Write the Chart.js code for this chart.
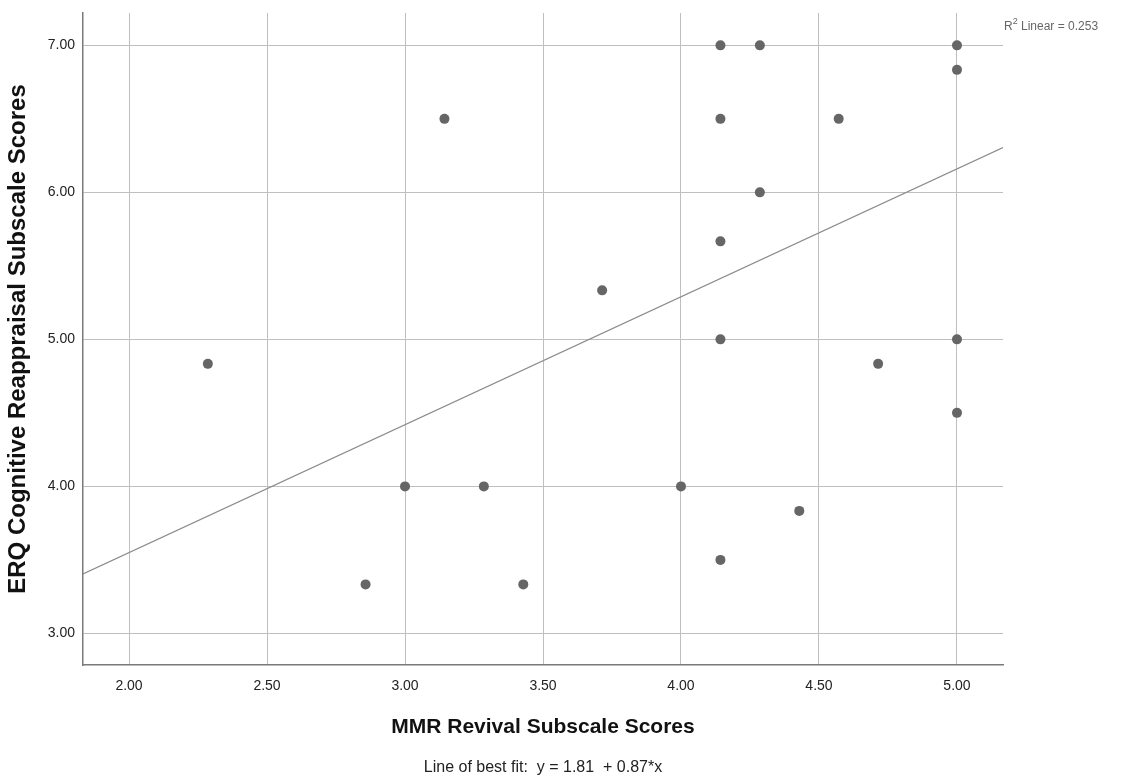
<!DOCTYPE html>
<html>
<head>
<meta charset="utf-8">
<title>ERQ Cognitive Reappraisal vs MMR Revival</title>
<script src="https://cdn.jsdelivr.net/npm/chart.js@4.4.1/dist/chart.umd.min.js"></script>
<style>
  html, body { margin: 0; padding: 0; background: #ffffff; }
  #wrap { width: 1127px; height: 782px; }
</style>
</head>
<body>
<div id="wrap"><canvas id="chart" width="1127" height="782"></canvas></div>
<script>
// Observed scores (one entry per participant)
const mmrRevival = [
  2.2857, 2.8571, 3.0000, 3.1429, 3.2857, 3.4286, 3.7143, 4.0000,
  4.1429, 4.1429, 4.1429, 4.1429, 4.1429, 4.2857, 4.2857, 4.4286,
  4.5714, 4.7143, 5.0000, 5.0000, 5.0000, 5.0000
];
const erqReappraisal = [
  4.8333, 3.3333, 4.0000, 6.5000, 4.0000, 3.3333, 5.3333, 4.0000,
  7.0000, 6.5000, 5.6667, 5.0000, 3.5000, 7.0000, 6.0000, 3.8333,
  6.5000, 4.8333, 7.0000, 6.8333, 5.0000, 4.5000
];

// Linear fit reported with the plot
const fitIntercept = 1.81;
const fitSlope = 0.87;
const rSquared = 0.253;

// Axis ranges and tick marks
const xRange = [1.8333, 5.1667];
const yRange = [2.785, 7.22];
const xTickValues = [2.0, 2.5, 3.0, 3.5, 4.0, 4.5, 5.0];
const yTickValues = [3.0, 4.0, 5.0, 6.0, 7.0];

const xTitle = 'MMR Revival Subscale Scores';
const yTitle = 'ERQ Cognitive Reappraisal Subscale Scores';
const fitCaption = 'Line of best fit:  y = 1.81  + 0.87*x';

const scatterPoints = mmrRevival.map((x, i) => ({ x: x, y: erqReappraisal[i] }));
const fitPoints = xRange.map(x => ({ x: x, y: fitIntercept + fitSlope * x }));

const sans = "'Liberation Sans', Arial, sans-serif";

// Caption under the x title and the R² note in the top-right corner
const annotations = {
  id: 'annotations',
  afterDraw(chart) {
    const ctx = chart.ctx;
    const area = chart.chartArea;
    ctx.save();
    ctx.textBaseline = 'middle';

    ctx.fillStyle = '#222222';
    ctx.font = '16px ' + sans;
    ctx.textAlign = 'center';
    ctx.fillText(fitCaption, (area.left + area.right) / 2, 768);

    ctx.fillStyle = '#666666';
    ctx.textAlign = 'left';
    let x = area.right + 1;
    const y = 27;
    ctx.font = '12px ' + sans;
    ctx.fillText('R', x, y);
    x += ctx.measureText('R').width;
    ctx.font = '9px ' + sans;
    ctx.fillText('2', x, y - 5);
    x += ctx.measureText('2').width;
    ctx.font = '12px ' + sans;
    ctx.fillText(' Linear = ' + rSquared.toFixed(3), x, y);
    ctx.restore();
  }
};

new Chart(document.getElementById('chart'), {
  type: 'scatter',
  data: {
    datasets: [
      {
        label: 'Fit',
        type: 'line',
        data: fitPoints,
        borderColor: '#8c8c8c',
        borderWidth: 1.2,
        pointRadius: 0,
        fill: false,
        order: 2
      },
      {
        label: 'Scores',
        data: scatterPoints,
        backgroundColor: '#666666',
        borderColor: '#666666',
        borderWidth: 0,
        pointRadius: 5,
        order: 1
      }
    ]
  },
  options: {
    responsive: false,
    animation: false,
    layout: { padding: { top: 13, right: 124, left: 0, bottom: 0 } },
    plugins: {
      legend: { display: false },
      tooltip: { enabled: false }
    },
    scales: {
      x: {
        type: 'linear',
        min: xRange[0],
        max: xRange[1],
        afterBuildTicks(scale) { scale.ticks = xTickValues.map(v => ({ value: v })); },
        afterFit(scale) {
          scale.height = 117;
          scale.paddingLeft = 0;
          scale.paddingRight = 0;
        },
        grid: { color: '#bfbfbf', lineWidth: 1, drawTicks: false },
        border: { display: true, color: '#7a7a7a', width: 1.5 },
        ticks: {
          padding: 13,
          color: '#222222',
          font: { family: sans, size: 14 },
          callback: v => Number(v).toFixed(2)
        },
        title: {
          display: true,
          text: xTitle,
          color: '#111111',
          font: { family: sans, size: 21, weight: 'bold' },
          padding: { top: 0, bottom: 42 }
        }
      },
      y: {
        type: 'linear',
        min: yRange[0],
        max: yRange[1],
        afterBuildTicks(scale) { scale.ticks = yTickValues.map(v => ({ value: v })); },
        afterFit(scale) {
          scale.width = 83;
          scale.paddingTop = 0;
          scale.paddingBottom = 0;
        },
        grid: { color: '#bfbfbf', lineWidth: 1, drawTicks: false },
        border: { display: true, color: '#7a7a7a', width: 1.5 },
        ticks: {
          padding: 8,
          color: '#222222',
          font: { family: sans, size: 14 },
          callback: v => Number(v).toFixed(2)
        },
        title: {
          display: true,
          text: yTitle,
          color: '#111111',
          font: { family: sans, size: 24, weight: 'bold' },
          padding: { top: 4, bottom: 0 }
        }
      }
    }
  },
  plugins: [annotations]
});
</script>
</body>
</html>
